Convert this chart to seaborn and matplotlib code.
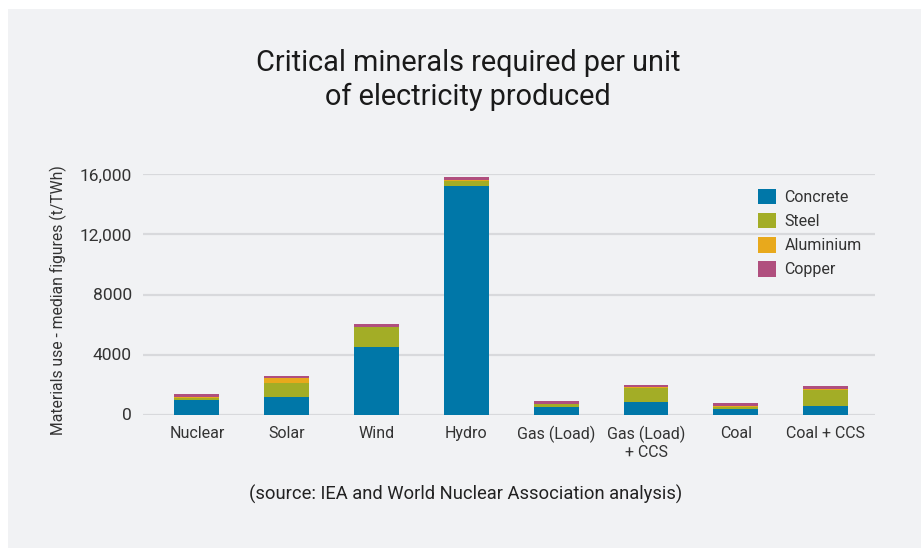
import matplotlib
matplotlib.use("Agg")
import matplotlib.pyplot as plt
import matplotlib.patches as mpatches
import seaborn as sns
import pandas as pd
import numpy as np

categories = ["Nuclear", "Solar", "Wind", "Hydro", "Gas (Load)", "Gas (Load)\n+ CCS", "Coal", "Coal + CCS"]
concrete = [960, 1150, 4480, 15250, 470, 850, 380, 560]
steel = [130, 920, 1330, 340, 200, 930, 150, 1090]
aluminium = [60, 340, 40, 60, 50, 40, 50, 40]
copper = [200, 170, 160, 160, 170, 130, 170, 190]
series_names = ["Concrete", "Steel", "Aluminium", "Copper"]
colors = ["#0077A8", "#A3AD26", "#E8A91C", "#B04F7E"]
yticks = [0, 4000, 8000, 12000, 16000]
ytick_labels = ["0", "4000", "8000", "12,000", "16,000"]

sns.set_theme(style="white")
plt.rcParams["font.family"] = ["Roboto", "DejaVu Sans"]

df = pd.DataFrame({"cat": categories, "Concrete": concrete, "Steel": steel,
                   "Aluminium": aluminium, "Copper": copper})
cum = df[series_names].cumsum(axis=1)

fig = plt.figure(figsize=(9.21, 5.48), dpi=100)
fig.patch.set_facecolor("white")
panel = mpatches.Rectangle((8 / 921, 0), 1.0, 1 - 9 / 548, transform=fig.transFigure,
                           facecolor="#F1F2F4", edgecolor="none", zorder=-10)
fig.patches.append(panel)

ax = fig.add_axes([143 / 921, 1 - 414.5 / 548, (875 - 143) / 921, (414.5 - 174.5) / 548])
ax.set_facecolor("none")

for name, col in reversed(list(zip(series_names, colors))):
    sns.barplot(x=df["cat"], y=cum[name], color=col, width=0.5, ax=ax,
                order=categories, saturation=1, zorder=3, edgecolor="none")

ax.set_ylim(0, 16000)
ax.set_xlim(-0.6, 7.55)
ax.set_yticks(yticks)
ax.set_yticklabels(ytick_labels)
ax.yaxis.grid(True, color="#D8D9DC", linewidth=1.6, zorder=0)
ax.set_axisbelow(True)
for s in ax.spines.values():
    s.set_visible(False)
ax.tick_params(axis="y", length=0, pad=8, labelsize=12.5, labelcolor="#333333")
ax.tick_params(axis="x", length=0, pad=8, labelsize=11.5, labelcolor="#333333")
ax.set_xlabel("")
ax.set_ylabel("")

fig.text(58 / 921, 1 - 300 / 548, "Materials use - median figures (t/TWh)", rotation=90,
         ha="center", va="center", fontsize=11.3, color="#333333")

fig.text(468 / 921, 1 - 80 / 548, "Critical minerals required per unit\nof electricity produced",
         ha="center", va="center", fontsize=20.8, color="#1a1a1a", linespacing=1.25)

fig.text(466 / 921, 1 - 494 / 548, "(source: IEA and World Nuclear Association analysis)",
         ha="center", va="center", fontsize=13.2, color="#222222")

handles = [mpatches.Patch(facecolor=c, edgecolor="none", label=n) for n, c in zip(series_names, colors)]
fig.legend(handles=handles, loc="upper left", bbox_to_anchor=(758 / 921, 1 - 189 / 548),
           frameon=False, fontsize=11.5, handlelength=1.1, handleheight=1.1,
           handletextpad=0.55, labelspacing=0.5, borderpad=0, borderaxespad=0,
           labelcolor="#333333")

fig.savefig("out.png", dpi=100, facecolor=fig.get_facecolor())
